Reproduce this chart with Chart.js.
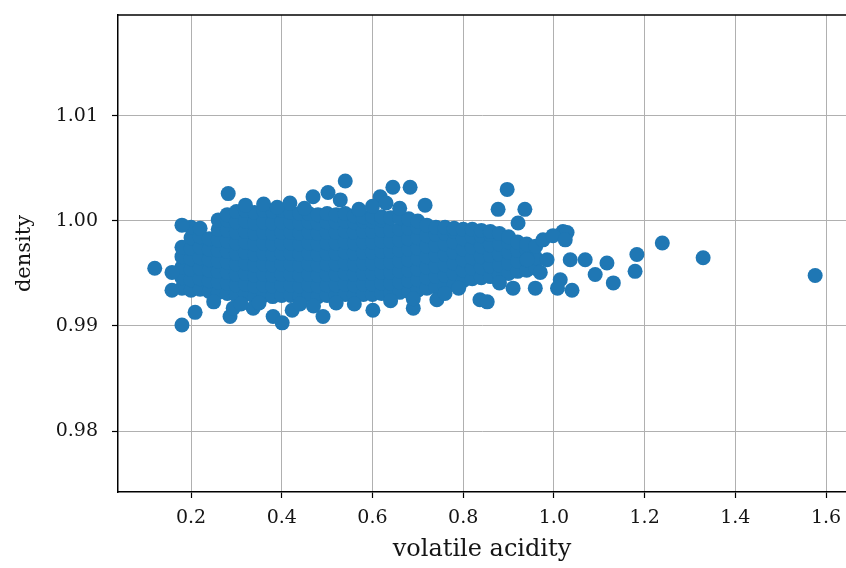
<!DOCTYPE html>
<html>
<head>
<meta charset="utf-8">
<script src="https://cdn.jsdelivr.net/npm/chart.js@4.4.1/dist/chart.umd.min.js"></script>
<style>
  html, body { margin: 0; padding: 0; background: #fff; }
  canvas { display: block; }
</style>
</head>
<body>
<canvas id="c" width="846" height="568"></canvas>
<script>
// ---- data ----
const xTicks = [0.2, 0.4, 0.6, 0.8, 1.0, 1.2, 1.4, 1.6];
const yTicks = [0.98, 0.99, 1.00, 1.01];

// dense core: acidity of each column and the densities seen in it
const colAcidity = [0.18, 0.20, 0.22, 0.24, 0.26, 0.28, 0.30, 0.32, 0.34, 0.36,
                    0.38, 0.40, 0.42, 0.44, 0.46, 0.48, 0.50, 0.52, 0.54, 0.56,
                    0.58, 0.60, 0.62, 0.64, 0.66, 0.68, 0.70, 0.72, 0.74, 0.76,
                    0.78, 0.80, 0.82, 0.84, 0.86, 0.88, 0.90, 0.92, 0.94, 0.96];
const colDensity = [
  [0.9936, 0.9946, 0.9956, 0.9966, 0.9975],
  [0.9934, 0.9944, 0.9954, 0.9964, 0.9974, 0.9984, 0.9994],
  [0.9935, 0.9945, 0.9955, 0.9965, 0.9975, 0.9985, 0.9993],
  [0.9933, 0.9943, 0.9953, 0.9963, 0.9973, 0.9983],
  [0.9932, 0.9942, 0.9952, 0.9962, 0.9972, 0.9982, 0.9992, 1.0001],
  [0.9931, 0.9941, 0.9951, 0.9961, 0.9971, 0.9981, 0.9991, 1.0001, 1.0006],
  [0.9929, 0.9939, 0.9949, 0.9959, 0.9969, 0.9979, 0.9989, 0.9999, 1.0009],
  [0.9930, 0.9940, 0.9950, 0.9960, 0.9970, 0.9980, 0.9990, 1.0000, 1.0010],
  [0.9928, 0.9938, 0.9948, 0.9958, 0.9968, 0.9978, 0.9988, 0.9998, 1.0008],
  [0.9929, 0.9939, 0.9949, 0.9959, 0.9969, 0.9979, 0.9989, 0.9999, 1.0010],
  [0.9928, 0.9938, 0.9948, 0.9958, 0.9968, 0.9978, 0.9988, 0.9998, 1.0009],
  [0.9929, 0.9939, 0.9949, 0.9959, 0.9969, 0.9979, 0.9989, 0.9999, 1.0010],
  [0.9929, 0.9939, 0.9949, 0.9959, 0.9969, 0.9979, 0.9989, 0.9999, 1.0008],
  [0.9928, 0.9938, 0.9948, 0.9958, 0.9968, 0.9978, 0.9988, 0.9998, 1.0007],
  [0.9929, 0.9939, 0.9949, 0.9959, 0.9969, 0.9979, 0.9989, 0.9999, 1.0007],
  [0.9928, 0.9938, 0.9948, 0.9958, 0.9968, 0.9978, 0.9988, 0.9998, 1.0006],
  [0.9929, 0.9939, 0.9949, 0.9959, 0.9969, 0.9979, 0.9989, 0.9999, 1.0007],
  [0.9929, 0.9939, 0.9949, 0.9959, 0.9969, 0.9979, 0.9989, 0.9999, 1.0006],
  [0.9930, 0.9940, 0.9950, 0.9960, 0.9970, 0.9980, 0.9990, 1.0000, 1.0007],
  [0.9929, 0.9939, 0.9949, 0.9959, 0.9969, 0.9979, 0.9989, 0.9999, 1.0005],
  [0.9930, 0.9940, 0.9950, 0.9960, 0.9970, 0.9980, 0.9990, 1.0000, 1.0004],
  [0.9930, 0.9940, 0.9950, 0.9960, 0.9970, 0.9980, 0.9990, 1.0000, 1.0004],
  [0.9931, 0.9941, 0.9951, 0.9961, 0.9971, 0.9981, 0.9991, 1.0001, 1.0004],
  [0.9931, 0.9941, 0.9951, 0.9961, 0.9971, 0.9981, 0.9991, 1.0003],
  [0.9932, 0.9942, 0.9952, 0.9962, 0.9972, 0.9982, 0.9992, 1.0003],
  [0.9933, 0.9943, 0.9953, 0.9963, 0.9973, 0.9983, 0.9993, 1.0002],
  [0.9934, 0.9944, 0.9954, 0.9964, 0.9974, 0.9984, 0.9994, 1.0000],
  [0.9936, 0.9946, 0.9956, 0.9966, 0.9976, 0.9986, 0.9996],
  [0.9937, 0.9947, 0.9957, 0.9967, 0.9977, 0.9987, 0.9994],
  [0.9938, 0.9948, 0.9958, 0.9968, 0.9978, 0.9988, 0.9994],
  [0.9940, 0.9950, 0.9960, 0.9970, 0.9980, 0.9990, 0.9993],
  [0.9943, 0.9953, 0.9963, 0.9973, 0.9983, 0.9992],
  [0.9945, 0.9955, 0.9965, 0.9975, 0.9985, 0.9992],
  [0.9946, 0.9956, 0.9966, 0.9976, 0.9986, 0.9991],
  [0.9947, 0.9957, 0.9967, 0.9977, 0.9987, 0.9990],
  [0.9948, 0.9958, 0.9968, 0.9978, 0.9988],
  [0.9950, 0.9960, 0.9970, 0.9980, 0.9985],
  [0.9952, 0.9962, 0.9972, 0.9980],
  [0.9953, 0.9963, 0.9973, 0.9978],
  [0.9955, 0.9965, 0.9976]
];

// scattered points around the core
const extraAcidity = [0.120, 0.180, 0.158, 0.158, 0.209, 0.180, 0.282, 0.286, 0.293, 0.337,
                      0.381, 0.401, 0.423, 0.491, 0.601, 0.690, 0.540, 0.645, 0.683, 0.716,
                      0.469, 0.502, 0.418, 0.617, 0.529, 0.897, 0.877, 0.936, 0.921, 0.837,
                      0.853, 0.742, 0.910, 0.959, 1.020, 1.029, 1.036, 1.069, 1.117, 1.091,
                      1.131, 1.040, 1.014, 1.183, 1.179, 1.239, 1.329, 1.576, 0.976, 0.985,
                      0.941, 0.970, 0.998, 1.008, 1.025,
                      0.32, 0.36, 0.39, 0.45, 0.57, 0.60, 0.63, 0.66,
                      0.25, 0.31, 0.35, 0.44, 0.47, 0.52, 0.56, 0.64, 0.69, 0.76, 0.79, 0.88];
const extraDensity = [0.9955, 0.9996, 0.9934, 0.9951, 0.9913, 0.9901, 1.0026, 0.9909, 0.9917, 0.9917,
                      0.9909, 0.9903, 0.9915, 0.9909, 0.9915, 0.9917, 1.0038, 1.0032, 1.0032, 1.0015,
                      1.0023, 1.0027, 1.0017, 1.0023, 1.0020, 1.0030, 1.0011, 1.0011, 0.9998, 0.9925,
                      0.9923, 0.9925, 0.9936, 0.9936, 0.9990, 0.9989, 0.9963, 0.9963, 0.9960, 0.9949,
                      0.9941, 0.9934, 0.9944, 0.9968, 0.9952, 0.9979, 0.9965, 0.9948, 0.9982, 0.9963,
                      0.9963, 0.9951, 0.9986, 0.9936, 0.9982,
                      1.0015, 1.0016, 1.0013, 1.0012, 1.0011, 1.0014, 1.0017, 1.0012,
                      0.9923, 0.9921, 0.9922, 0.9921, 0.9919, 0.9922, 0.9921, 0.9924, 0.9926, 0.9931, 0.9936, 0.9941];

// ---- build dataset ----
const points = [];
colAcidity.forEach((x, i) => colDensity[i].forEach(y => points.push({x: x, y: y})));
extraAcidity.forEach((x, i) => points.push({x: x, y: extraDensity[i]}));

const FONT = 'DejaVu Serif';
const TXT = '#141414';

const frame = {
  id: 'frame',
  afterDraw(chart) {
    const {ctx, chartArea: a} = chart;
    ctx.save();
    ctx.strokeStyle = '#000';
    ctx.lineWidth = 1.5;
    ctx.beginPath();
    ctx.moveTo(a.left, a.top);
    ctx.lineTo(a.right, a.top);
    ctx.stroke();
    ctx.restore();
  }
};

function noPad(s) {
  s.paddingLeft = 0; s.paddingRight = 0; s.paddingTop = 0; s.paddingBottom = 0;
}

new Chart(document.getElementById('c').getContext('2d'), {
  type: 'scatter',
  data: {
    datasets: [{
      data: points,
      backgroundColor: '#1f77b4',
      borderWidth: 0,
      pointRadius: 7.5,
      pointHoverRadius: 7.5
    }]
  },
  options: {
    responsive: false,
    animation: false,
    devicePixelRatio: 1,
    layout: { autoPadding: false, padding: { top: 15, right: 0, left: 0, bottom: 0 } },
    plugins: { legend: { display: false }, tooltip: { enabled: false } },
    scales: {
      x: {
        type: 'linear',
        min: 0.039,
        max: 1.644,
        z: 1,
        afterBuildTicks: s => { s.ticks = xTicks.map(v => ({ value: v })); },
        afterFit: s => { s.height = 76; noPad(s); },
        ticks: {
          callback: v => Number(v).toFixed(1),
          font: { family: FONT, size: 19 },
          color: TXT,
          padding: 9,
          maxRotation: 0,
          autoSkip: false
        },
        grid: { color: '#b0b0b0', lineWidth: 1, tickLength: 6, tickColor: '#000', tickWidth: 1.2 },
        border: { display: true, color: '#000', width: 1.5 },
        title: {
          display: true, text: 'volatile acidity',
          font: { family: FONT, size: 24 }, color: TXT,
          padding: { top: 0, bottom: 4 }
        }
      },
      y: {
        type: 'linear',
        min: 0.9742,
        max: 1.0196,
        z: 1,
        afterBuildTicks: s => { s.ticks = yTicks.map(v => ({ value: v })); },
        afterFit: s => { s.width = 118; noPad(s); },
        ticks: {
          callback: v => Number(v).toFixed(2),
          font: { family: FONT, size: 19 },
          color: TXT,
          padding: 14,
          autoSkip: false
        },
        grid: { color: '#b0b0b0', lineWidth: 1, tickLength: 6, tickColor: '#000', tickWidth: 1.2 },
        border: { display: true, color: '#000', width: 1.5 },
        title: {
          display: true, text: 'density',
          font: { family: FONT, size: 21 }, color: TXT,
          padding: { top: 12, bottom: 0 }
        }
      }
    }
  },
  plugins: [frame]
});
</script>
</body>
</html>
